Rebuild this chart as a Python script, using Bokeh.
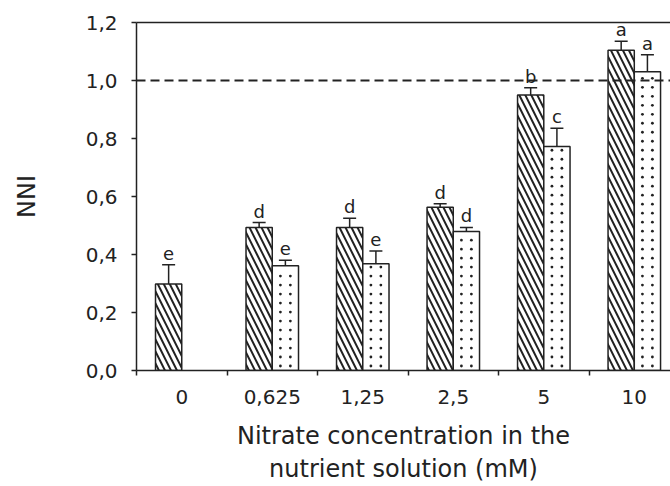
from bokeh.plotting import figure
from bokeh.models import Range1d, FixedTicker, LinearAxis, Span, Whisker, TeeHead, ColumnDataSource
from bokeh.core.properties import value
from bokeh.embed import file_html
from bokeh.resources import INLINE

# ---- data ----
categories = ["0", "0,625", "1,25", "2,5", "5", "10"]
hatched_mean = [0.298, 0.493, 0.493, 0.563, 0.950, 1.104]
hatched_se = [0.067, 0.017, 0.032, 0.012, 0.025, 0.031]
hatched_letters = ["e", "d", "d", "d", "b", "a"]
dotted_mean = [None, 0.361, 0.368, 0.479, 0.772, 1.030]
dotted_se = [None, 0.019, 0.044, 0.014, 0.063, 0.059]
dotted_letters = [None, "e", "e", "d", "c", "a"]
y_ticks = [0.0, 0.2, 0.4, 0.6, 0.8, 1.0, 1.2]
y_tick_labels = ["0,0", "0,2", "0,4", "0,6", "0,8", "1,0", "1,2"]
reference_line = 1.0

FONT = "DejaVu Sans"
INK = "#222222"
BAR_W = 0.29
LABEL_GAP = 0.040      # space between error cap and letter (data units)
DOT_STEP = 0.031       # vertical spacing of the stipple dots (data units)
DOT_DX = 0.055         # horizontal offset of the two stipple columns

p = figure(width=670, height=486, output_backend="svg", toolbar_location=None,
           x_range=Range1d(0, 5.9), y_range=Range1d(0, 1.2),
           min_border_left=136, min_border_top=22, min_border_bottom=115, min_border_right=0)
p.outline_line_color = None
p.xgrid.visible = False
p.ygrid.visible = False
p.background_fill_color = "white"

centers = [i + 0.5 for i in range(len(categories))]

# hatched bars
hs = ColumnDataSource(dict(
    x=[c - BAR_W / 2 for c in centers],
    top=hatched_mean,
    up=[m + s for m, s in zip(hatched_mean, hatched_se)],
    ly=[m + s + LABEL_GAP for m, s in zip(hatched_mean, hatched_se)],
    lab=hatched_letters,
))
p.vbar(x="x", top="top", bottom=0, width=BAR_W, source=hs,
       fill_color="white", line_color=INK, line_width=1.5,
       hatch_pattern="left_diagonal_line", hatch_color=INK, hatch_scale=12, hatch_weight=2.0)

# dotted bars
idx = [i for i, m in enumerate(dotted_mean) if m is not None]
ds = ColumnDataSource(dict(
    x=[centers[i] + BAR_W / 2 for i in idx],
    top=[dotted_mean[i] for i in idx],
    up=[dotted_mean[i] + dotted_se[i] for i in idx],
    ly=[dotted_mean[i] + dotted_se[i] + LABEL_GAP for i in idx],
    lab=[dotted_letters[i] for i in idx],
))
p.vbar(x="x", top="top", bottom=0, width=BAR_W, source=ds,
       fill_color="white", line_color=INK, line_width=1.5)

# stipple texture inside the dotted bars
dot_x, dot_y = [], []
for bx, bt in zip(ds.data["x"], ds.data["top"]):
    k = 0
    while (k + 0.5) * DOT_STEP < bt - 0.25 * DOT_STEP:
        for dx in (-DOT_DX, DOT_DX):
            dot_x.append(bx + dx)
            dot_y.append((k + 0.5) * DOT_STEP)
        k += 1
p.scatter(dot_x, dot_y, marker="circle", size=2.8, fill_color=INK, line_color=None)

for src in (hs, ds):
    w = Whisker(base="x", upper="up", lower="top", source=src, line_color=INK, line_width=1.5,
                upper_head=TeeHead(size=13, line_color=INK, line_width=1.5), lower_head=None)
    p.add_layout(w)
    p.text(x="x", y="ly", text="lab", source=src, text_align="center", text_baseline="alphabetic",
           text_font=value(FONT), text_font_size="18px", text_color=INK)

p.add_layout(Span(location=reference_line, dimension="width", line_color=INK,
                  line_width=2, line_dash="9 5"))

# x axis
xa = p.xaxis[0]
xa.ticker = FixedTicker(ticks=centers, minor_ticks=list(range(len(categories))))
xa.major_label_overrides = {c: lab for c, lab in zip(centers, categories)}
xa.major_tick_line_color = None
xa.minor_tick_line_color = INK
xa.minor_tick_out = 5
xa.minor_tick_in = 0
xa.minor_tick_line_width = 1.5
xa.axis_line_color = INK
xa.axis_line_width = 1.5
xa.major_label_standoff = 13
xa.major_label_text_font = FONT
xa.major_label_text_font_size = "20px"
xa.major_label_text_color = INK
xa.axis_label = "Nitrate concentration in the\nnutrient solution (mM)"
xa.axis_label_text_font = FONT
xa.axis_label_text_font_size = "24px"
xa.axis_label_text_font_style = "normal"
xa.axis_label_text_color = INK
xa.axis_label_standoff = 15

# y axis
ya = p.yaxis[0]
ya.ticker = FixedTicker(ticks=y_ticks)
ya.major_label_overrides = {t: lab for t, lab in zip(y_ticks, y_tick_labels)}
ya.major_tick_out = 5
ya.major_tick_in = 0
ya.major_tick_line_width = 1.5
ya.major_tick_line_color = INK
ya.minor_tick_line_color = None
ya.axis_line_color = INK
ya.axis_line_width = 1.5
ya.major_label_standoff = 14
ya.major_label_text_font = FONT
ya.major_label_text_font_size = "20px"
ya.major_label_text_color = INK
ya.axis_label = "NNI"
ya.axis_label_text_font = FONT
ya.axis_label_text_font_size = "24px"
ya.axis_label_text_font_style = "normal"
ya.axis_label_text_color = INK
ya.axis_label_standoff = 42

# top frame line
top = LinearAxis(ticker=FixedTicker(ticks=[]), major_tick_line_color=None, minor_tick_line_color=None,
                 major_tick_out=0, major_label_standoff=0, major_label_text_font_size="0px",
                 axis_line_color=INK, axis_line_width=1.5)
p.add_layout(top, "above")

open("out.html", "w").write(file_html(p, INLINE))
